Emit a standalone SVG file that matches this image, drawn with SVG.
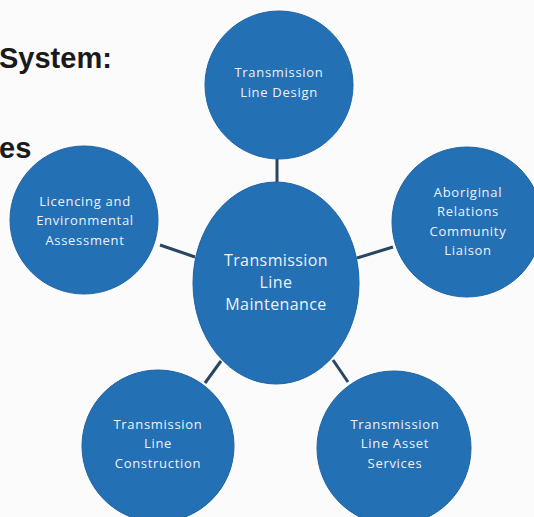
<svg xmlns="http://www.w3.org/2000/svg" width="534" height="517" viewBox="0 0 534 517">
<style>
.node{fill:#2370b5;stroke:#1e63a3;stroke-width:1}
.lbl{font-family:"Open Sans","Noto Sans",sans-serif;font-size:13px;letter-spacing:0.7px;fill:#eef2f7;text-anchor:middle}
.big{font-size:16px;letter-spacing:0.4px}
.conn{stroke:#2b4660;stroke-width:3;fill:none}
.title{font-family:"Liberation Sans",Arial,sans-serif;font-weight:bold;font-size:29px;fill:#1a1a1a}
</style>
<rect width="534" height="517" fill="#fbfbfb"/>
<text class="title" x="-1" y="68">System:</text>
<text class="title" x="-1" y="158">es</text>
<g id="connectors">
<line class="conn" x1="277" y1="156" x2="277" y2="183"/>
<line class="conn" x1="160" y1="245" x2="195" y2="257"/>
<line class="conn" x1="357" y1="258" x2="393" y2="247"/>
<line class="conn" x1="221" y1="361" x2="205" y2="383"/>
<line class="conn" x1="333" y1="360" x2="348" y2="382"/>
</g>
<g id="design">
<circle class="node" cx="279" cy="85" r="74"/>
<text class="lbl" x="279" y="77">Transmission</text>
<text class="lbl" x="279" y="97">Line Design</text>
</g>
<g id="licencing">
<circle class="node" cx="84" cy="220" r="74"/>
<text class="lbl" x="85" y="206">Licencing and</text>
<text class="lbl" x="85" y="225">Environmental</text>
<text class="lbl" x="85" y="245">Assessment</text>
</g>
<g id="aboriginal">
<circle class="node" cx="467" cy="222" r="75"/>
<text class="lbl" x="468" y="197">Aboriginal</text>
<text class="lbl" x="468" y="216">Relations</text>
<text class="lbl" x="468" y="236">Community</text>
<text class="lbl" x="468" y="255">Liaison</text>
</g>
<g id="maintenance">
<ellipse class="node" cx="276" cy="283" rx="83" ry="101"/>
<text class="lbl big" x="276" y="266">Transmission</text>
<text class="lbl big" x="276" y="288">Line</text>
<text class="lbl big" x="276" y="310">Maintenance</text>
</g>
<g id="construction">
<circle class="node" cx="158" cy="446" r="76"/>
<text class="lbl" x="158" y="429">Transmission</text>
<text class="lbl" x="158" y="448">Line</text>
<text class="lbl" x="158" y="468">Construction</text>
</g>
<g id="asset">
<circle class="node" cx="394" cy="448" r="77"/>
<text class="lbl" x="395" y="429">Transmission</text>
<text class="lbl" x="395" y="448">Line Asset</text>
<text class="lbl" x="395" y="468">Services</text>
</g>
</svg>
